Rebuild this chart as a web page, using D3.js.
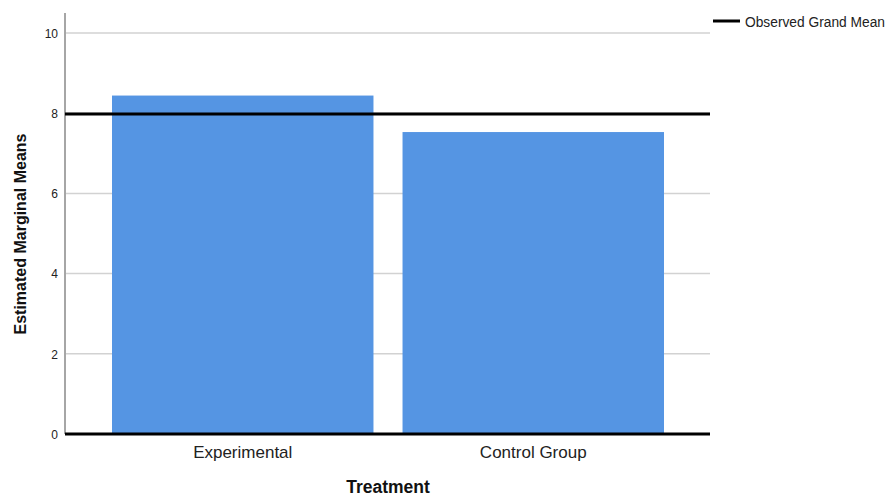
<!DOCTYPE html>
<html><head><meta charset="utf-8">
<script src="https://cdn.jsdelivr.net/npm/d3@7"></script>
<style>body{margin:0;background:#fff;} svg{display:block;font-family:"Liberation Sans",Arial,sans-serif;}</style>
</head><body>
<svg id="chart" width="890" height="497"></svg>
<script>
const categories = ["Experimental", "Control Group"];
const means = [8.44, 7.53];
const grandMean = 7.98;
const yTicks = [0, 2, 4, 6, 8, 10];
const xTitle = "Treatment";
const yTitle = "Estimated Marginal Means";
const legendLabel = "Observed Grand Mean";

const svg = d3.select("#chart");
const plotLeft = 65, plotRight = 710, plotTop = 13, plotBottom = 434;

const y = d3.scaleLinear().domain([0, 10]).range([434, 33]);
const x = d3.scaleBand().domain(categories).range([112, 664]).paddingInner(0.1).paddingOuter(0);

// gridlines
svg.append("g").selectAll("line").data(yTicks.filter(d => d !== 0)).join("line")
  .attr("x1", plotLeft).attr("x2", plotRight)
  .attr("y1", d => y(d)).attr("y2", d => y(d))
  .attr("stroke", "#d2d2d2").attr("stroke-width", 1.5);

// bars
svg.append("g").selectAll("rect").data(categories).join("rect")
  .attr("x", d => x(d)).attr("width", x.bandwidth())
  .attr("y", (d, i) => y(means[i])).attr("height", (d, i) => y(0) - y(means[i]))
  .attr("fill", "#5595e3");

// y axis line
svg.append("line").attr("x1", plotLeft).attr("x2", plotLeft).attr("y1", plotTop).attr("y2", plotBottom)
  .attr("stroke", "#a6a6a6").attr("stroke-width", 2);

// y ticks labels
svg.append("g").selectAll("text").data(yTicks).join("text")
  .attr("x", 58).attr("y", d => y(d)).attr("dy", "0.4em")
  .attr("text-anchor", "end").attr("font-size", 12).attr("fill", "#222")
  .text(d => d);

// zero line
svg.append("line").attr("x1", plotLeft).attr("x2", plotRight).attr("y1", y(0)).attr("y2", y(0))
  .attr("stroke", "#000").attr("stroke-width", 3);

// grand mean line
svg.append("line").attr("x1", plotLeft).attr("x2", plotRight).attr("y1", y(grandMean)).attr("y2", y(grandMean))
  .attr("stroke", "#000").attr("stroke-width", 3);

// x labels
svg.append("g").selectAll("text").data(categories).join("text")
  .attr("x", d => x(d) + x.bandwidth() / 2).attr("y", 458)
  .attr("text-anchor", "middle").attr("font-size", 17).attr("fill", "#222")
  .text(d => d);

// axis titles
svg.append("text").attr("x", 388).attr("y", 493).attr("text-anchor", "middle")
  .attr("font-size", 17.5).attr("font-weight", "bold").attr("fill", "#111").text(xTitle);
svg.append("text").attr("transform", "translate(26,234) rotate(-90)").attr("text-anchor", "middle")
  .attr("font-size", 16).attr("font-weight", "bold").attr("fill", "#111").text(yTitle);

// legend
svg.append("line").attr("x1", 713).attr("x2", 740).attr("y1", 21).attr("y2", 21)
  .attr("stroke", "#000").attr("stroke-width", 3);
svg.append("text").attr("x", 745).attr("y", 27).attr("font-size", 14).attr("fill", "#222")
  .attr("textLength", 140).attr("lengthAdjust", "spacingAndGlyphs").text(legendLabel);
</script>
</body></html>
